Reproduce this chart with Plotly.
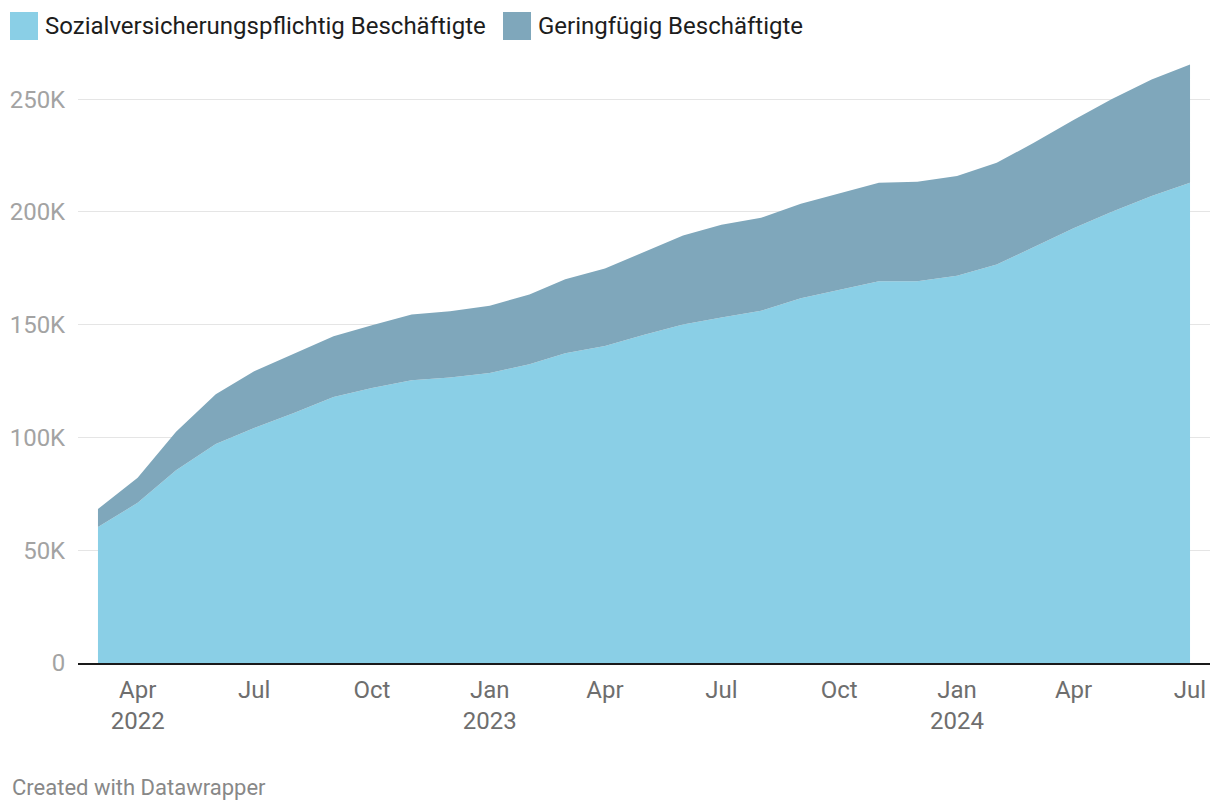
import pandas as pd
import plotly.graph_objects as go

# ── Data (monthly, Mar 2022 – Jul 2024) ───────────────────────────────────
MONTHS = pd.date_range("2022-03-01", "2024-07-01", freq="MS")

SOZIAL = [
    60300, 71000, 85500, 97100, 104200, 110800, 117900, 121900, 125400, 126600,
    128600, 132400, 137300, 140500, 145400, 150100, 153200, 156200, 161700, 165600,
    169300, 169300, 171700, 176700, 184300, 192700, 200100, 207000, 212900,
]
GERING = [
    8000, 11100, 17000, 22000, 25100, 26200, 27000, 27800, 29100, 29400,
    29800, 31000, 32800, 34400, 36600, 39400, 41100, 41200, 41900, 42600,
    43600, 44100, 44200, 45100, 46300, 48000, 50000, 51700, 52500,
]

SERIES_NAMES = ["Sozialversicherungspflichtig Beschäftigte", "Geringfügig Beschäftigte"]

X_TICKS = ["2022-04-01", "2022-07-01", "2022-10-01", "2023-01-01", "2023-04-01",
           "2023-07-01", "2023-10-01", "2024-01-01", "2024-04-01", "2024-07-01"]
X_TICK_TEXT = ["Apr<br>2022", "Jul", "Oct", "Jan<br>2023", "Apr",
               "Jul", "Oct", "Jan<br>2024", "Apr", "Jul"]

Y_TICKS = [0, 50000, 100000, 150000, 200000, 250000]
Y_TICK_TEXT = ["0", "50K", "100K", "150K", "200K", "250K"]

# ── Styling ───────────────────────────────────────────────────────────────
LIGHT_BLUE = "#8acfe6"
SLATE_BLUE = "#7fa7bb"
FONT = "Roboto, sans-serif"

# page body has an 8px margin, so the figure is drawn 8px in from the corner
OFF = 8
PLOT_L, PLOT_T, PLOT_W, PLOT_H = 78, 54, 1132, 609   # absolute page px


def px_x(x):
    return (x - PLOT_L) / PLOT_W


def px_y(y):
    return (PLOT_T + PLOT_H - y) / PLOT_H


fig = go.Figure()
for name, vals, col in [(SERIES_NAMES[0], SOZIAL, LIGHT_BLUE),
                        (SERIES_NAMES[1], GERING, SLATE_BLUE)]:
    fig.add_trace(go.Scatter(
        x=MONTHS, y=vals, name=name,
        mode="lines", stackgroup="one",
        line=dict(width=0, color=col),
        fillcolor=col,
        showlegend=False,
    ))

pad = pd.Timedelta(days=15.6)
x_range = [MONTHS[0] - pad, MONTHS[-1] + pad]

fig.update_layout(
    width=1220 - OFF, height=810 - OFF,
    margin=dict(l=PLOT_L - OFF, r=10, t=PLOT_T - OFF, b=147),
    paper_bgcolor="white",
    plot_bgcolor="white",
    font=dict(family=FONT, size=24, color="#222"),
    showlegend=False,
    xaxis=dict(
        range=x_range, automargin=False,
        tickvals=X_TICKS, ticktext=X_TICK_TEXT,
        tickfont=dict(size=24, color="#6e6e6e"),
        ticks="outside", ticklen=4, tickcolor="rgba(0,0,0,0)",
        showgrid=False,
        showline=True, linecolor="#1a1a1a", linewidth=2,
        layer="above traces",
    ),
    yaxis=dict(
        range=[0, 270000], automargin=False,
        tickvals=Y_TICKS, ticktext=Y_TICK_TEXT,
        tickfont=dict(size=24, color="#a3a3a3"),
        showgrid=True, gridcolor="rgba(0,0,0,0.1)", gridwidth=1,
        zeroline=False, showline=False,
        ticks="outside", ticklen=7, tickcolor="rgba(0,0,0,0)",
        layer="above traces",
    ),
)

# legend swatches + labels (Datawrapper style, top-left)
legend_items = [(SERIES_NAMES[0], LIGHT_BLUE, 10), (SERIES_NAMES[1], SLATE_BLUE, 503)]
for name, col, x0 in legend_items:
    fig.add_shape(type="rect", xref="paper", yref="paper",
                  x0=px_x(x0), x1=px_x(x0 + 28),
                  y0=px_y(40), y1=px_y(12),
                  fillcolor=col, line=dict(width=0))
    fig.add_annotation(text=name, xref="paper", yref="paper",
                       x=px_x(x0 + 33), y=px_y(26),
                       xanchor="left", yanchor="middle", showarrow=False,
                       font=dict(family=FONT, size=24, color="#1d1d1d"))

fig.add_annotation(text="Created with Datawrapper", xref="paper", yref="paper",
                   x=px_x(10), y=px_y(787),
                   xanchor="left", yanchor="middle", showarrow=False,
                   font=dict(family=FONT, size=22, color="#888"))

fig.write_html("out.html")
